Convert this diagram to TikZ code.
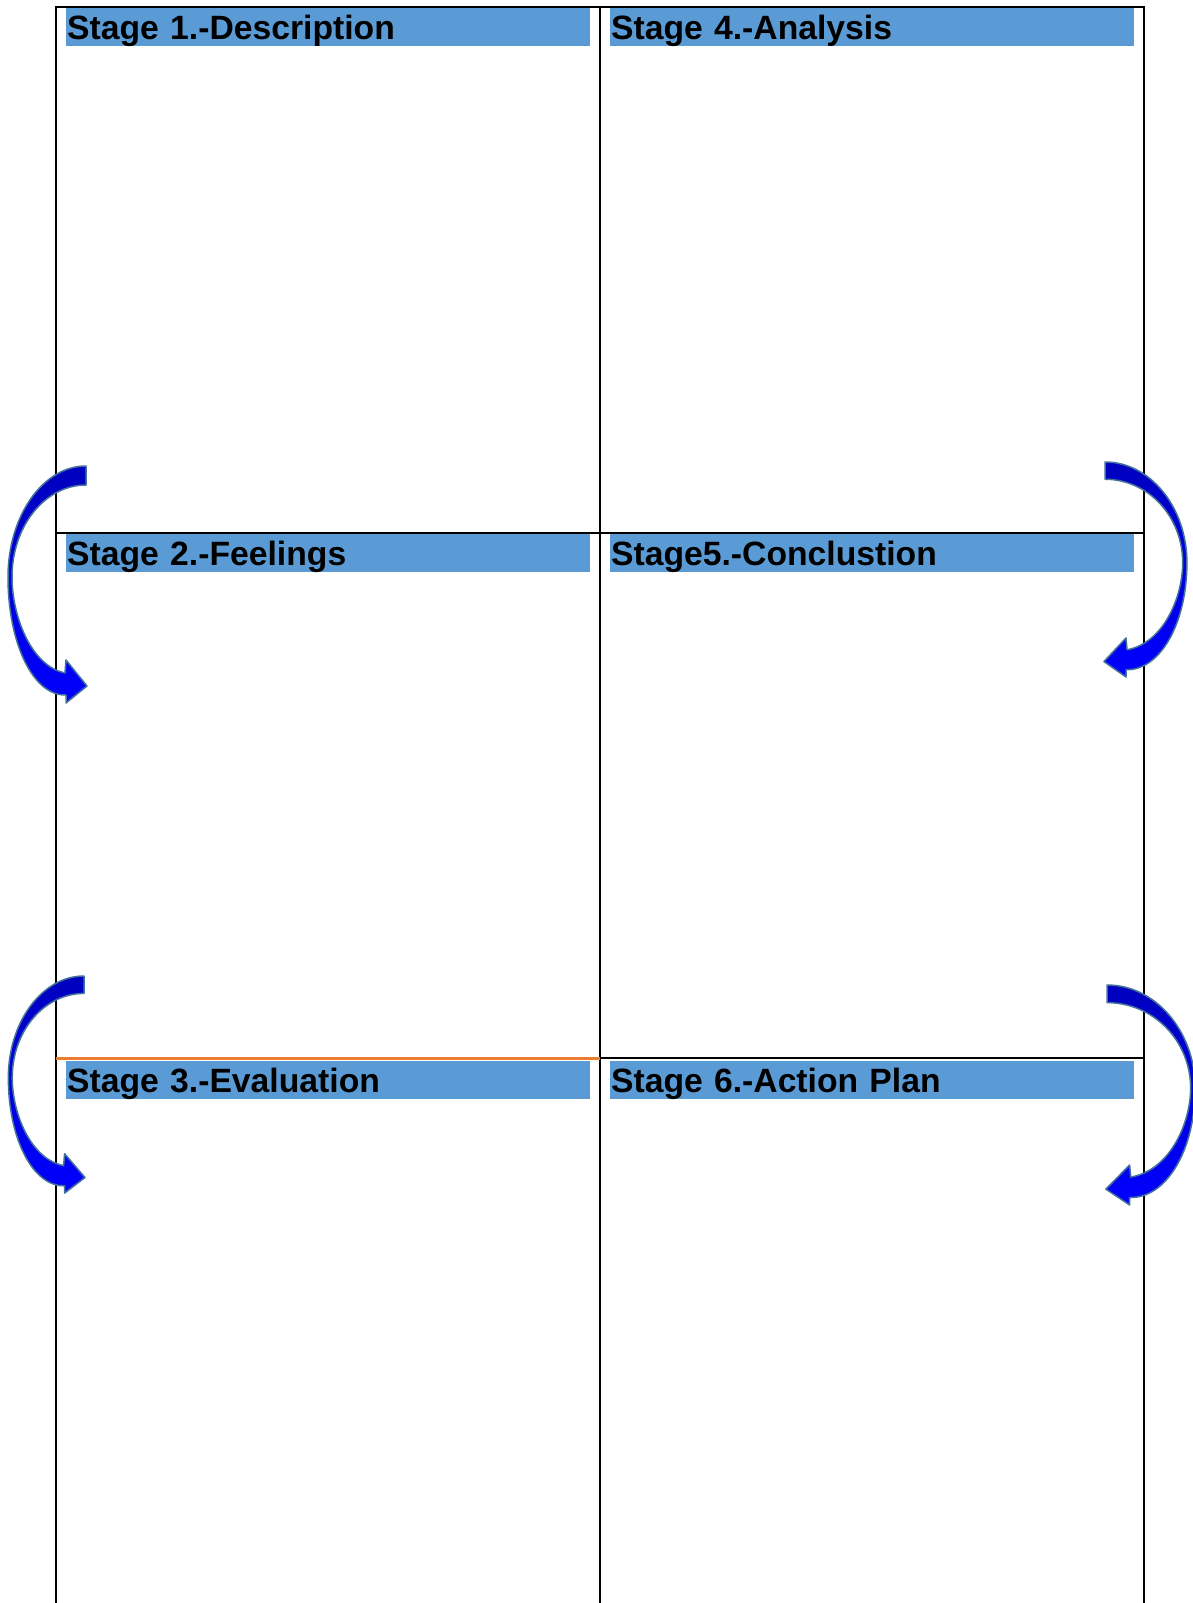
\documentclass[tikz,border=0pt]{standalone}
\usepackage{fontspec}
\setmainfont{Liberation Sans}
\definecolor{hdrblue}{HTML}{5B9BD5}
\definecolor{orangeline}{HTML}{ED7D31}
\definecolor{arrowedge}{HTML}{41719C}
\definecolor{arrowtop}{HTML}{0000BE}
\definecolor{arrowmid}{HTML}{0000E0}
\definecolor{arrowbot}{HTML}{0000FF}
\begin{document}
\begin{tikzpicture}[x=1pt,y=-1pt,
  frame/.style={line width=2pt,black},
  orangerule/.style={line width=3pt,orangeline},
  hdr/.style={rectangle,fill=hdrblue,anchor=north west,minimum height=38pt,
    text width=521pt,inner xsep=1.6pt,inner ysep=5pt,text height=26pt,text depth=2pt,
    align=left,font=\fontsize{33.7}{40}\selectfont\bfseries},
  blockarrow/.style={draw=arrowedge,line width=1.5pt,line join=round,
    top color=arrowtop,middle color=arrowmid,bottom color=arrowbot},
  curvarrow/.pic={
    \path[blockarrow] (0,0) -- (0,19)
      .. controls (-41,19) and (-74,60) .. (-74,111)
      .. controls (-74,150) and (-55,200) .. (-21,207)
      -- (-20,194) -- (1,220) -- (-20,237) -- (-20,229)
      .. controls (-53,230) and (-78,177) .. (-78,111)
      .. controls (-78,50) and (-43,0) .. (0,0) -- cycle;
  }]
\useasboundingbox (0,0) rectangle (1192,1603);
% frame coordinates
\coordinate (tl) at (56,7);
\coordinate (tm) at (600,7);
\coordinate (tr) at (1144,7);
\coordinate (bl) at (56,1612);
\coordinate (bm) at (600,1612);
\coordinate (br) at (1144,1612);
\coordinate (r1l) at (56,532.6);
\coordinate (r1r) at (1144,532.6);
\coordinate (r2l) at (56,1058);
\coordinate (r2m) at (600,1058);
\coordinate (r2r) at (1144,1058);
% grid lines
\draw[frame,line join=miter] (bl) -- (tl) -- (tr) -- (br);
\draw[frame] (tm) -- (bm);
\draw[frame] (r1l) -- (r1r);
\draw[frame] (r2m) -- (r2r);
\draw[orangerule] (r2l) -- (r2m);
% headers
\node[hdr] (h1) at (65.4,8) {Stage 1.-Description};
\node[hdr] (h4) at (609.3,8) {Stage 4.-Analysis};
\node[hdr] (h2) at (65.4,534) {Stage 2.-Feelings};
\node[hdr] (h5) at (609.3,534) {Stage5.-Conclustion};
\node[hdr] (h3) at (65.4,1061) {Stage 3.-Evaluation};
\node[hdr] (h6) at (609.3,1061) {Stage 6.-Action Plan};
% curved block arrows
\pic at (86,466) {curvarrow};
\pic[xscale=0.97,yscale=0.916] at (84,976) {curvarrow};
\pic[xscale=-1.05,yscale=0.907] at (1105,462) {curvarrow};
\pic[xscale=-1.13,yscale=0.928] at (1107,985) {curvarrow};
\end{tikzpicture}
\end{document}
